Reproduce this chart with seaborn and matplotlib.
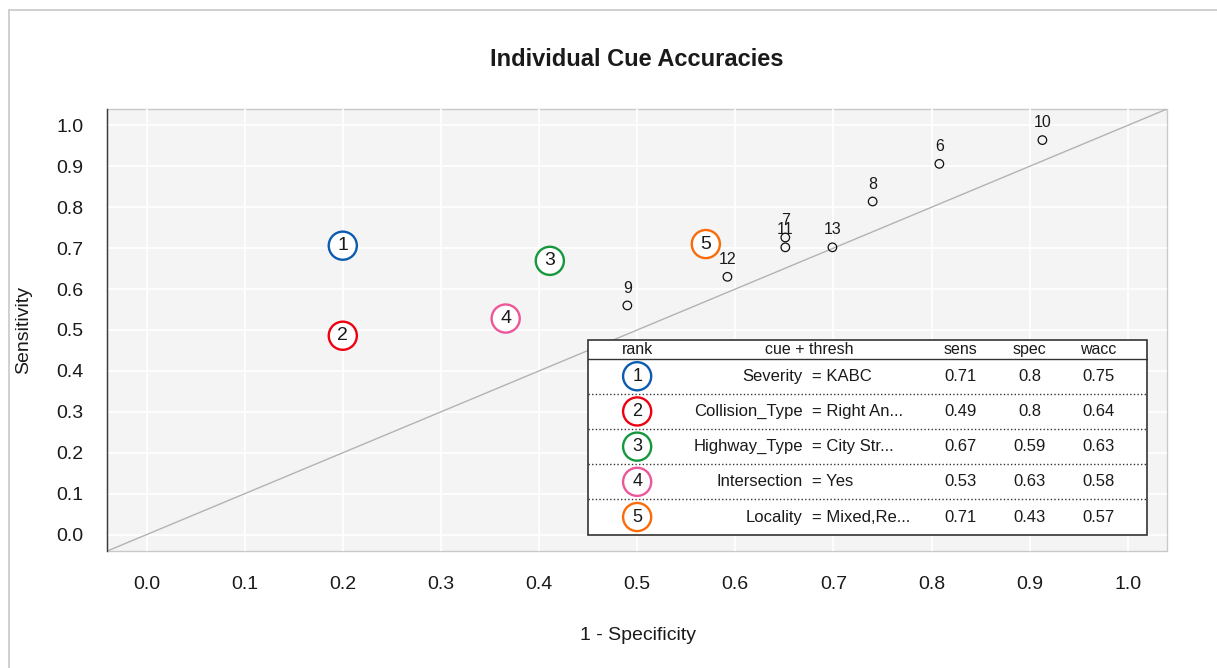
import matplotlib
matplotlib.use("Agg")
import matplotlib.pyplot as plt
from matplotlib.lines import Line2D
from matplotlib.patches import Rectangle
import pandas as pd
import seaborn as sns

# ---- cue accuracy data ---------------------------------------------------
top_rank = [1, 2, 3, 4, 5]
top_cue = ["Severity", "Collision_Type", "Highway_Type", "Intersection", "Locality"]
top_thresh = ["KABC", "Right An...", "City Str...", "Yes", "Mixed,Re..."]
top_sens = [0.706, 0.486, 0.669, 0.528, 0.710]
top_spec = [0.800, 0.800, 0.589, 0.634, 0.430]
top_colors = ["#0C5BB0", "#EE0011", "#15983D", "#EC579A", "#FA6B09"]

other_rank = [6, 7, 8, 9, 10, 11, 12, 13]
other_sens = [0.906, 0.726, 0.814, 0.560, 0.964, 0.702, 0.630, 0.702]
other_spec = [0.192, 0.349, 0.260, 0.510, 0.087, 0.349, 0.408, 0.301]

tick_values = [0.0, 0.1, 0.2, 0.3, 0.4, 0.5, 0.6, 0.7, 0.8, 0.9, 1.0]
tick_labels = ["0.0", "0.1", "0.2", "0.3", "0.4", "0.5", "0.6", "0.7", "0.8", "0.9", "1.0"]

table_headers = ["rank", "cue + thresh", "sens", "spec", "wacc"]

top_df = pd.DataFrame({
    "rank": top_rank, "cue": top_cue, "thresh": top_thresh,
    "sens": top_sens, "spec": top_spec,
})
top_df["fpr"] = 1 - top_df["spec"]
top_df["wacc"] = (top_df["sens"] + top_df["spec"]) / 2

other_df = pd.DataFrame({"rank": other_rank, "sens": other_sens, "spec": other_spec})
other_df["fpr"] = 1 - other_df["spec"]


def fmt(v):
    return f"{round(v, 2):g}"


# ---- figure setup -------------------------------------------------------
sns.set_style("white")
plt.rcParams["font.family"] = ["Liberation Sans", "DejaVu Sans"]
text_col = "#1a1a1a"

W, H = 1217, 668
fig = plt.figure(figsize=(W / 100, H / 100), dpi=100)
ax = fig.add_axes([107.3 / W, 1 - 551 / H, (1167 - 107.3) / W, (551 - 109) / H])

# chance line
ax.axline((0, 0), slope=1, color="#b3b3b3", linewidth=1.0, zorder=1)

# remaining cues as small open circles with their rank above
sns.scatterplot(data=other_df, x="fpr", y="sens", ax=ax, marker="o", s=38,
                facecolor="none", edgecolor="#111111", linewidth=0.9,
                legend=False, zorder=3)
for _, r in other_df.iterrows():
    ax.annotate(str(int(r["rank"])), (r["fpr"], r["sens"]), xytext=(0, 12.5),
                textcoords="offset points", ha="center", va="center",
                fontsize=11.5, color=text_col, zorder=3)

# top cues as large coloured rings with their rank inside
sns.scatterplot(data=top_df, x="fpr", y="sens", hue="rank", palette=top_colors,
                ax=ax, marker="o", s=410, linewidth=1.7, legend=False, zorder=4)
rings = ax.collections[-1]
rings.set_edgecolors(rings.get_facecolors())
rings.set_facecolors("white")
for _, r in top_df.iterrows():
    ax.text(r["fpr"], r["sens"], str(int(r["rank"])), ha="center", va="center",
            fontsize=14, color=text_col, zorder=5)

ax.set_xlim(-0.04, 1.04)
ax.set_ylim(-0.04, 1.04)
ax.set_facecolor("#f4f4f4")
ax.set_axisbelow(True)
ax.grid(True, color="white", linewidth=1.3)

for side in ("top", "right", "bottom"):
    ax.spines[side].set_visible(False)
ax.spines["left"].set_color("#3a3a3a")
ax.spines["left"].set_linewidth(1.0)
ax.spines["bottom"].set_position(("outward", 2.2))
ax.add_patch(Rectangle((0, 0), 1, 1, transform=ax.transAxes, fill=False,
                       edgecolor="#c9c9c9", linewidth=1.0, zorder=0.5, clip_on=False))

ax.set_xticks(tick_values, tick_labels)
ax.set_yticks(tick_values, tick_labels)
ax.tick_params(axis="y", direction="out", length=8, width=1, color="#3a3a3a",
               labelsize=14, labelcolor=text_col, pad=9)
ax.tick_params(axis="x", direction="out", length=6.5, width=1, color="#3a3a3a",
               labelsize=14, labelcolor=text_col, pad=9.5)
ax.set_xlabel("")
ax.set_ylabel("")

# ---- summary table of the top cues --------------------------------------
tx0, tx1 = 0.45, 1.02
ty0, ty1 = 0.0, 0.476
header_y, header_line = 0.452, 0.430
col_rank, col_name, col_thresh = 0.5, 0.669, 0.678
col_sens, col_spec, col_wacc = 0.83, 0.90, 0.97
col_header = [col_rank, 0.675, col_sens, col_spec, col_wacc]

ax.add_patch(Rectangle((tx0, ty0), tx1 - tx0, ty1 - ty0, facecolor="white",
                       edgecolor="#333333", linewidth=1.2, zorder=6))
for x, lab in zip(col_header, table_headers):
    ax.text(x, header_y, lab, ha="center", va="center", fontsize=11.5,
            color=text_col, zorder=7)
ax.plot([tx0, tx1], [header_line, header_line], color="#333333", linewidth=1.0, zorder=7)

n = len(top_df)
row_h = (header_line - ty0) / n
row_y = [header_line - row_h * (i + 0.5) for i in range(n)]
for i in range(1, n):
    y = header_line - row_h * i
    ax.plot([tx0, tx1], [y, y], color="#333333", linewidth=1.0,
            linestyle=(0, (1, 1.6)), zorder=7)

ax.scatter([col_rank] * n, row_y, s=410, facecolor="white",
           edgecolor=top_colors, linewidth=1.7, zorder=8)
for i, r in top_df.iterrows():
    y = row_y[i]
    ax.text(col_rank, y, str(int(r["rank"])), ha="center", va="center",
            fontsize=13, color=text_col, zorder=9)
    ax.text(col_name, y, r["cue"], ha="right", va="center", fontsize=12,
            color=text_col, zorder=9)
    ax.text(col_thresh, y, "= " + r["thresh"], ha="left", va="center",
            fontsize=12, color=text_col, zorder=9)
    ax.text(col_sens, y, fmt(r["sens"]), ha="center", va="center",
            fontsize=12, color=text_col, zorder=9)
    ax.text(col_spec, y, fmt(r["spec"]), ha="center", va="center",
            fontsize=12, color=text_col, zorder=9)
    ax.text(col_wacc, y, fmt(r["wacc"]), ha="center", va="center",
            fontsize=12, color=text_col, zorder=9)

# ---- titles and frame ---------------------------------------------------
fig.text(636.5 / W, 1 - 60 / H, "Individual Cue Accuracies", ha="center",
         va="center", fontsize=17, fontweight="bold", color=text_col)
fig.text(637.5 / W, 1 - 636 / H, "1 - Specificity", ha="center", va="center",
         fontsize=14, color=text_col)
fig.text(24 / W, 1 - 330 / H, "Sensitivity", ha="center", va="center",
         rotation=90, fontsize=14, color=text_col)

frame_col = "#c8c8c8"
fig.add_artist(Line2D([8.5 / W, 8.5 / W], [0, 1 - 10 / H], transform=fig.transFigure,
                      color=frame_col, linewidth=1.2))
fig.add_artist(Line2D([8.5 / W, 1], [1 - 10 / H, 1 - 10 / H], transform=fig.transFigure,
                      color=frame_col, linewidth=1.2))

fig.savefig("out.png", dpi=100, facecolor="white")
